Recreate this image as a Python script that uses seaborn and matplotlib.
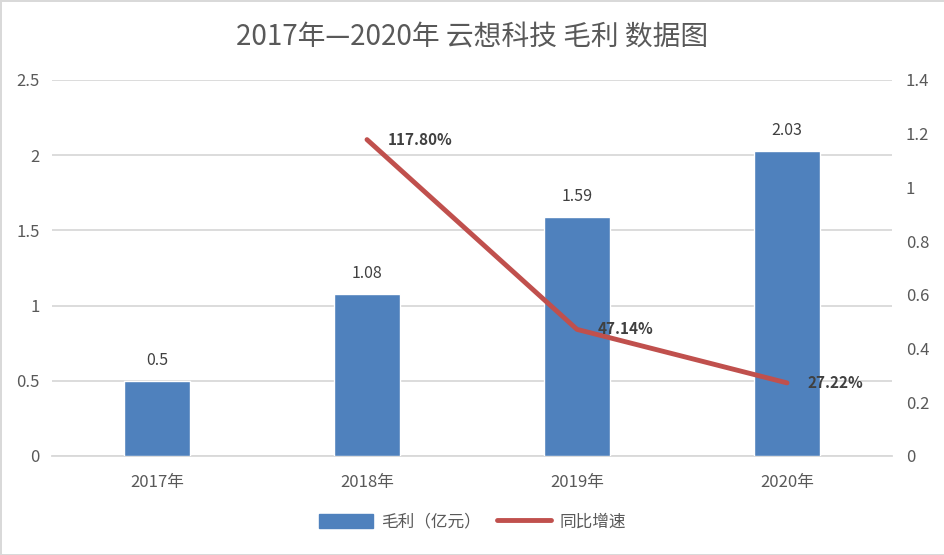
import numpy as np
import pandas as pd
import seaborn as sns
import matplotlib.pyplot as plt
from matplotlib.patches import Patch
from matplotlib.lines import Line2D

years = ["2017年", "2018年", "2019年", "2020年"]
gross_profit = [0.5, 1.08, 1.59, 2.03]
growth_years = ["2018年", "2019年", "2020年"]
growth = [1.178, 0.4714, 0.2722]
growth_labels = ["117.80%", "47.14%", "27.22%"]

sns.set_theme(style="white")
plt.rcParams["font.family"] = ["Noto Sans CJK SC", "DejaVu Sans"]

bar_color = "#4F81BD"
line_color = "#C0504D"
text_gray = "#595959"
grid_gray = "#D9D9D9"

fig = plt.figure(figsize=(9.45, 5.55), dpi=100)
fig.patch.set_edgecolor(grid_gray)
fig.patch.set_linewidth(2)
ax = fig.add_axes([52 / 945, 1 - 456 / 555, 840 / 945, 376 / 555])

df = pd.DataFrame({"year": years, "value": gross_profit})
sns.barplot(data=df, x="year", y="value", color=bar_color, saturation=1,
            width=0.31, ax=ax, zorder=3)
ax.set_xlim(-0.5, 3.5)
ax.set_ylim(0, 2.5)
ax.set_yticks(np.arange(0, 2.51, 0.5))
ax.set_yticklabels(["0", "0.5", "1", "1.5", "2", "2.5"])
ax.yaxis.grid(True, color=grid_gray, linewidth=1.3, zorder=0)
ax.set_axisbelow(True)
for s in ["top", "left", "right"]:
    ax.spines[s].set_visible(False)
ax.spines["bottom"].set_color(grid_gray)
ax.spines["bottom"].set_linewidth(1.3)
ax.set_xlabel("")
ax.set_ylabel("")
ax.tick_params(axis="both", length=0, colors=text_gray, labelsize=12)
ax.tick_params(axis="x", pad=13)
ax.tick_params(axis="y", pad=9)

for i, v in enumerate(gross_profit):
    ax.text(i, v + 0.08, f"{v:g}", ha="center", va="bottom",
            fontsize=11.5, color="#404040")

ax2 = ax.twinx()
gx = [years.index(y) for y in growth_years]
sns.lineplot(x=gx, y=growth, color=line_color, linewidth=3.5, ax=ax2,
             solid_capstyle="round")
ax2.set_ylim(0, 1.4)
ax2.set_yticks(np.arange(0, 1.41, 0.2))
ax2.set_yticklabels(["0", "0.2", "0.4", "0.6", "0.8", "1", "1.2", "1.4"])
ax2.tick_params(axis="y", length=0, colors=text_gray, labelsize=12, pad=10)
for s in ax2.spines.values():
    s.set_visible(False)
ax2.set_ylabel("")

for x, v, lab in zip(gx, growth, growth_labels):
    ax2.text(x + 0.1, v, lab, ha="left", va="center", fontsize=11,
             fontweight="bold", color="#404040")

fig.suptitle("2017年—2020年 云想科技 毛利 数据图", y=1 - 37 / 555,
             va="center", fontsize=20, color=text_gray)

handles = [Patch(color=bar_color, label="毛利（亿元）"),
           Line2D([0], [0], color=line_color, linewidth=3.5,
                  solid_capstyle="round", label="同比增速")]
fig.legend(handles=handles, loc="center", bbox_to_anchor=(0.5, 1 - 522 / 555),
           ncol=2, frameon=False, fontsize=12, labelcolor=text_gray,
           handlelength=3.2, handleheight=0.9, columnspacing=1.0,
           handletextpad=0.5)

fig.savefig("out.png", dpi=100, edgecolor=fig.get_edgecolor())
